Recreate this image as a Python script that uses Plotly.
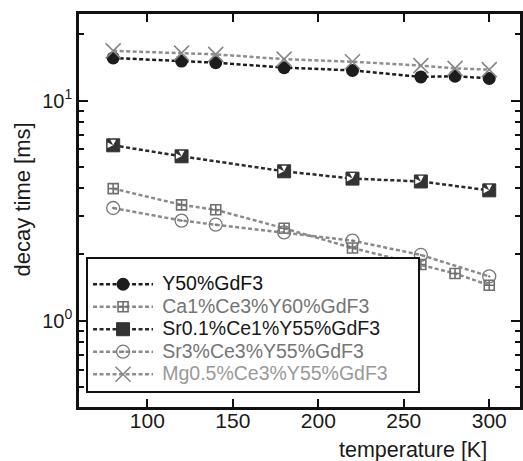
import math
import plotly.graph_objects as go

# Temperature grid [K]
temps_full = [80, 120, 140, 180, 220, 260, 280, 300]
temps_sr01 = [80, 120, 180, 220, 260, 300]
temps_sr3 = [80, 120, 140, 180, 220, 260, 300]

# Decay times [ms]
y50_gdf3 = [15.6, 15.1, 14.85, 14.1, 13.7, 12.8, 12.9, 12.6]
ca1_ce3_y60 = [3.98, 3.36, 3.19, 2.63, 2.14, 1.80, 1.64, 1.45]
sr01_ce1_y55 = [6.26, 5.58, 4.77, 4.42, 4.29, 3.91]
sr3_ce3_y55 = [3.25, 2.85, 2.73, 2.52, 2.31, 1.99, 1.59]
mg05_ce3_y55 = [16.8, 16.4, 16.2, 15.4, 15.0, 14.4, 14.0, 13.8]

names = ["Y50%GdF3", "Ca1%Ce3%Y60%GdF3", "Sr0.1%Ce1%Y55%GdF3",
         "Sr3%Ce3%Y55%GdF3", "Mg0.5%Ce3%Y55%GdF3"]
name_colors = ["#111111", "#757575", "#1a1a1a", "#757575", "#999999"]

x_ticks = [100, 150, 200, 250, 300]
y_ticks = [1, 10]
y_ticktext = ["10<sup>0</sup>", "10<sup>1</sup>"]

FONT = "Liberation Sans, Arial, Helvetica, sans-serif"
DASH = "4px,2.5px"


def label(i):
    return (f'&nbsp;<span style="font-size:19.5px;color:{name_colors[i]}">'
            f'{names[i]}</span>&nbsp;&nbsp;&nbsp;&nbsp;&nbsp;&nbsp;')


fig = go.Figure()

fig.add_trace(go.Scatter(
    x=temps_full, y=y50_gdf3, name=label(0), mode="lines+markers",
    line=dict(color="#1c1c1c", width=2.5, dash=DASH),
    marker=dict(symbol="circle", size=13, color="#1c1c1c"),
))
fig.add_trace(go.Scatter(
    x=temps_full, y=ca1_ce3_y60, name=label(1), mode="lines+markers",
    line=dict(color="#8a8a8a", width=2.5, dash=DASH),
    marker=dict(symbol="square-cross-open", size=10, color="#707070",
                line=dict(width=1.6, color="#707070")),
))
fig.add_trace(go.Scatter(
    x=temps_sr01, y=sr01_ce1_y55, name=label(2), mode="lines+markers",
    line=dict(color="#2a2a2a", width=2.5, dash=DASH),
    marker=dict(symbol="square", size=13, color="#333333",
                line=dict(width=1, color="#333333")),
))
# white upper-left half of the half-filled squares (two quarter wedges)
for wedge in ("arrow-down", "arrow-right"):
    fig.add_trace(go.Scatter(
        x=temps_sr01, y=sr01_ce1_y55, mode="markers", showlegend=False,
        hoverinfo="skip",
        marker=dict(symbol=wedge, size=5.6, color="white",
                    line=dict(width=0)),
    ))
fig.add_trace(go.Scatter(
    x=temps_sr3, y=sr3_ce3_y55, name=label(3), mode="lines+markers",
    line=dict(color="#8a8a8a", width=2.5, dash=DASH),
    marker=dict(symbol="circle-open-dot", size=13, color="#777777",
                line=dict(width=1.3, color="#777777")),
))
fig.add_trace(go.Scatter(
    x=temps_full, y=mg05_ce3_y55, name=label(4), mode="lines+markers",
    line=dict(color="#8e8e8e", width=2.5, dash=DASH),
    marker=dict(symbol="x-thin-open", size=15, color="#888888",
                line=dict(width=1.6, color="#888888")),
))

minor_y = [m * 10 ** e for e in (-1, 0, 1) for m in range(2, 10)]
minor_y = [v for v in minor_y if 0.4 < v < 25]

fig.update_layout(
    width=523, height=461,
    margin=dict(l=79, r=0, t=14, b=54),
    paper_bgcolor="white", plot_bgcolor="white",
    font=dict(family=FONT, size=19, color="#1a1a1a"),
    showlegend=True,
    legend=dict(
        x=0.016, y=0.382, xanchor="left", yanchor="top",
        bgcolor="white", bordercolor="#111111", borderwidth=2,
        font=dict(family=FONT, size=15, color="#1a1a1a"),
        title=dict(text="&nbsp;", font=dict(size=7)),
        itemwidth=60, traceorder="normal",
    ),
    xaxis=dict(
        range=[60, 318], tickvals=x_ticks, ticks="inside", ticklen=8,
        tickwidth=2, tickcolor="#111111",
        showline=True, linewidth=2.5, linecolor="#111111", mirror="ticks",
        showgrid=False, zeroline=False, ticklabelstandoff=-7,
        tickfont=dict(family=FONT, size=21, color="#1a1a1a"),
    ),
    yaxis=dict(
        type="log", range=[math.log10(0.406), math.log10(24.7)],
        tickvals=y_ticks, ticktext=y_ticktext, ticks="inside", ticklen=9,
        tickwidth=2, tickcolor="#111111",
        minor=dict(tickvals=minor_y, ticks="inside", ticklen=5,
                   tickwidth=1.5, tickcolor="#111111", showgrid=False),
        showline=True, linewidth=2.5, linecolor="#111111", mirror="ticks",
        showgrid=False, zeroline=False,
        tickfont=dict(family=FONT, size=20, color="#1a1a1a"),
    ),
    annotations=[
        dict(text="decay time [ms]", textangle=-90, xref="paper", yref="paper",
             x=-0.128, y=0.527, xanchor="center", yanchor="middle",
             showarrow=False, font=dict(family=FONT, size=22, color="#1a1a1a")),
        dict(text="temperature [K]", xref="paper", yref="paper",
             x=0.93, y=-0.109, xanchor="right", yanchor="middle",
             showarrow=False, font=dict(family=FONT, size=21.5, color="#1a1a1a")),
    ],
)

fig.write_html("out.html")
